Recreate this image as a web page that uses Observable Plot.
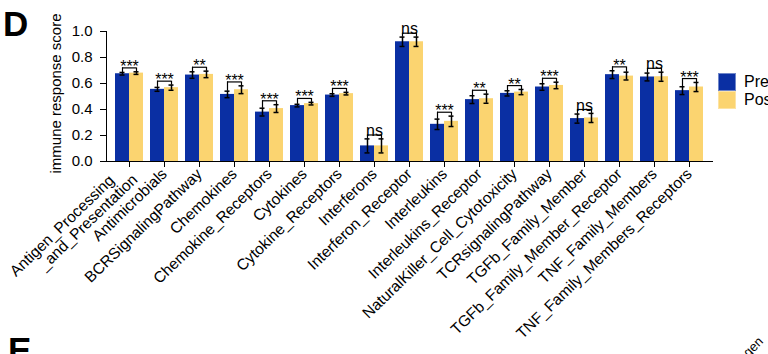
<!DOCTYPE html>
<html>
<head>
<meta charset="utf-8">
<script src="https://cdn.jsdelivr.net/npm/d3@7"></script>
<script src="https://cdn.jsdelivr.net/npm/@observablehq/plot@0.6"></script>
<style>
  html, body { margin: 0; padding: 0; background: #fff; }
  #wrap { position: relative; width: 768px; height: 354px; overflow: hidden; font-family: 'Liberation Sans', Arial, sans-serif; }
  #wrap svg g[aria-label="x-axis tick label"] { font-size: 15.5px; }
  .panel { position: absolute; font-weight: bold; font-size: 35px; line-height: 1; color: #000; }
  .leg { position: absolute; left: 718px; width: 18px; height: 18px; box-sizing: border-box; }
  .legt { position: absolute; left: 744px; font-size: 16px; line-height: 1; color: #000; }
</style>
</head>
<body>
<div id="wrap"></div>
<script>
const categories = [
  "Antigen_Processing_and_Presentation", "Antimicrobials", "BCRSignalingPathway", "Chemokines",
  "Chemokine_Receptors", "Cytokines", "Cytokine_Receptors", "Interferons", "Interferon_Receptor",
  "Interleukins", "Interleukins_Receptor", "NaturalKiller_Cell_Cytotoxicity", "TCRsignalingPathway",
  "TGFb_Family_Member", "TGFb_Family_Member_Receptor", "TNF_Family_Members", "TNF_Family_Members_Receptors"
];
const tickLabels = [
  "Antigen_Processing\u00a0\u00a0\u00a0\u00a0\n_and_Presentation", "Antimicrobials", "BCRSignalingPathway", "Chemokines",
  "Chemokine_Receptors", "Cytokines", "Cytokine_Receptors", "Interferons", "Interferon_Receptor",
  "Interleukins", "Interleukins_Receptor", "NaturalKiller_Cell_Cytotoxicity", "TCRsignalingPathway",
  "TGFb_Family_Member", "TGFb_Family_Member_Receptor", "TNF_Family_Members", "TNF_Family_Members_Receptors"
];
const preValues  = [0.675, 0.555, 0.665, 0.516, 0.380, 0.430, 0.511, 0.120, 0.921, 0.286, 0.476, 0.524, 0.573, 0.330, 0.668, 0.650, 0.545];
const postValues = [0.680, 0.568, 0.670, 0.552, 0.407, 0.445, 0.522, 0.120, 0.921, 0.309, 0.483, 0.534, 0.585, 0.335, 0.657, 0.652, 0.573];
const preErr     = [0.010, 0.015, 0.025, 0.025, 0.030, 0.010, 0.010, 0.054, 0.036, 0.040, 0.030, 0.020, 0.025, 0.035, 0.030, 0.030, 0.030];
const postErr    = [0.010, 0.020, 0.025, 0.030, 0.030, 0.010, 0.010, 0.054, 0.036, 0.040, 0.035, 0.020, 0.025, 0.035, 0.030, 0.035, 0.035];
const significance = ["***", "***", "**", "***", "***", "***", "***", "ns", "ns", "***", "**", "**", "***", "ns", "**", "ns", "***"];
const yTicks = [0, 0.2, 0.4, 0.6, 0.8, 1.0];
const seriesNames = ["Pre", "Post"];
const colors = {Pre: "#0a2fa3", Post: "#fbd470"};

const labelOf = new Map(categories.map((c, i) => [c, tickLabels[i]]));
const rows = categories.map((c, i) => ({
  cat: c, pre: preValues[i], post: postValues[i], preE: preErr[i], postE: postErr[i], sig: significance[i],
  preTop: preValues[i] + preErr[i], postTop: postValues[i] + postErr[i],
  bracket: Math.max(preValues[i] + preErr[i], postValues[i] + postErr[i]) + 0.03
}));

const base = {
  width: 768, height: 354,
  marginLeft: 106, marginRight: 56, marginTop: 31, marginBottom: 193
};
const xScale = {domain: categories, paddingInner: 0.2, paddingOuter: 0.186};

// probe the band width from Plot's own x scale
const probe = Plot.plot({...base, x: xScale, marks: [Plot.barY(rows, {x: "cat", y: "pre"})]});
const bw = probe.scale("x").bandwidth;
const q = bw / 4, cap = 2.5;
const ink = "#000";

const chart = Plot.plot({
  ...base,
  style: {fontFamily: "'Liberation Sans', Arial, sans-serif", fontSize: "15px", color: ink, background: "transparent"},
  x: {...xScale, label: null, tickSize: 6, tickRotate: -44, tickPadding: 4, line: true, tickFormat: d => labelOf.get(d)},
  y: {domain: [0, 1], ticks: yTicks, tickFormat: d => d.toFixed(1), label: null, tickSize: 6, tickPadding: 8, line: true},
  marks: [
    Plot.barY(rows, {x: "cat", y: "pre", fill: colors.Pre, insetRight: bw / 2}),
    Plot.barY(rows, {x: "cat", y: "post", fill: colors.Post, insetLeft: bw / 2}),
    // error bars
    Plot.ruleX(rows, {x: "cat", y1: d => d.pre - d.preE, y2: "preTop", dx: -q, stroke: ink, strokeWidth: 1.5}),
    Plot.ruleX(rows, {x: "cat", y1: d => d.post - d.postE, y2: "postTop", dx: q, stroke: ink, strokeWidth: 1.5}),
    Plot.tickY(rows, {x: "cat", y: "preTop", insetLeft: q - cap, insetRight: 3 * q - cap, stroke: ink, strokeWidth: 1.5}),
    Plot.tickY(rows, {x: "cat", y: d => d.pre - d.preE, insetLeft: q - cap, insetRight: 3 * q - cap, stroke: ink, strokeWidth: 1.5}),
    Plot.tickY(rows, {x: "cat", y: "postTop", insetLeft: 3 * q - cap, insetRight: q - cap, stroke: ink, strokeWidth: 1.5}),
    Plot.tickY(rows, {x: "cat", y: d => d.post - d.postE, insetLeft: 3 * q - cap, insetRight: q - cap, stroke: ink, strokeWidth: 1.5}),
    // significance brackets
    Plot.ruleX(rows, {x: "cat", y1: "preTop", y2: "bracket", dx: -q, stroke: ink, strokeWidth: 1.2}),
    Plot.ruleX(rows, {x: "cat", y1: "postTop", y2: "bracket", dx: q, stroke: ink, strokeWidth: 1.2}),
    Plot.tickY(rows, {x: "cat", y: "bracket", insetLeft: q, insetRight: q, stroke: ink, strokeWidth: 1.2}),
    Plot.text(rows.filter(d => d.sig !== "ns"), {x: "cat", y: "bracket", text: "sig", fontSize: 16, lineAnchor: "bottom", dy: 4, fill: ink}),
    Plot.text(rows.filter(d => d.sig === "ns"), {x: "cat", y: "bracket", text: "sig", fontSize: 16, lineAnchor: "bottom", dy: 1, fill: ink}),
    // y axis title
    Plot.text(["immune response score"], {frameAnchor: "left", textAnchor: "middle", dx: -50, dy: -3, rotate: -90, fontSize: 15, fill: ink})
  ]
});

const wrap = document.getElementById("wrap");
wrap.appendChild(chart);

function add(cls, css, text) {
  const el = document.createElement("div");
  el.className = cls;
  Object.assign(el.style, css);
  if (text) el.textContent = text;
  wrap.appendChild(el);
}
add("panel", {left: "3px", top: "6px"}, "D");
add("panel", {left: "8px", top: "332px"}, "E");
add("leg", {top: "73px", background: colors.Pre, border: "1px solid #6f86c9"});
add("leg", {top: "91px", background: colors.Post, border: "1px solid #fde3a3"});
add("legt", {top: "74px"}, seriesNames[0]);
add("legt", {top: "92px"}, seriesNames[1]);
add("legt", {left: "750px", top: "346px", fontSize: "13px", transform: "rotate(-45deg)", transformOrigin: "left bottom"}, "gen");
</script>
</body>
</html>
